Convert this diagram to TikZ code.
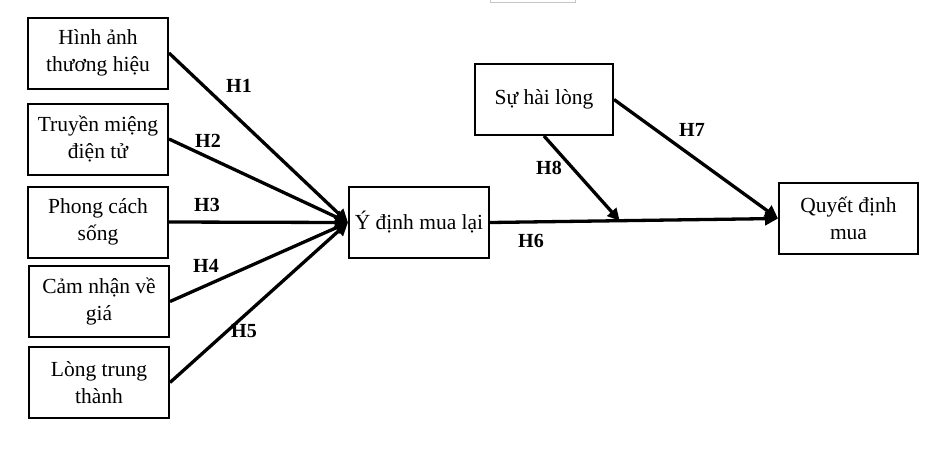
\documentclass[tikz,border=0pt]{standalone}
\usepackage{fontspec}
\setmainfont{Liberation Serif}
\usetikzlibrary{arrows.meta,calc}
\begin{document}
\begin{tikzpicture}[x=1pt,y=-1pt,
  box/.style={draw,line width=2pt,minimum width=140pt,minimum height=71pt,align=center,inner sep=0pt,
    font=\fontsize{21.5}{26.5}\selectfont},
  arr/.style={line width=3.3pt,-{Triangle[length=13pt,width=13pt]}},
  hlab/.style={font=\fontsize{20}{24}\selectfont\bfseries,inner sep=0pt}]
\useasboundingbox (0,0) rectangle (941,459);
\draw[gray!45,line width=0.8pt] (490,-4) rectangle (575,2);
\node[box] (b1) at (98,53) {Hình ảnh\\thương hiệu};
\node[box] (b2) at (98,139) {Truyền miệng\\điện tử};
\node[box] (b3) at (98,222) {Phong cách\\sống};
\node[box] (b4) at (99,301.5) {Cảm nhận về\\giá};
\node[box] (b5) at (99,382.5) {Lòng trung\\thành};
\node[box] (mid) at (419,222.5) {Ý định mua lại};
\node[box,minimum width=138pt] (sat) at (544,99.5) {Sự hài lòng};
\node[box,minimum width=139pt] (q) at (848.5,218.5) {Quyết định\\mua};
\coordinate (h8end) at ($(mid.east)!0.45!(q.west)$);
\foreach \b in {b1,b2,b3,b4,b5} \draw[arr] (\b.east) -- (mid.west);
\draw[arr] (mid.east) -- (q.west);
\draw[arr] (sat.east) -- (q.west);
\draw[arr,-{Triangle[length=12pt,width=12pt]}] (sat.south) -- (h8end);
\node[hlab] at (239,86) {H1};
\node[hlab] at (208,141) {H2};
\node[hlab] at (207,205) {H3};
\node[hlab] at (206,266) {H4};
\node[hlab] at (244,331) {H5};
\node[hlab] at (531,241) {H6};
\node[hlab] at (692,130) {H7};
\node[hlab] at (549,168) {H8};
\end{tikzpicture}
\end{document}
